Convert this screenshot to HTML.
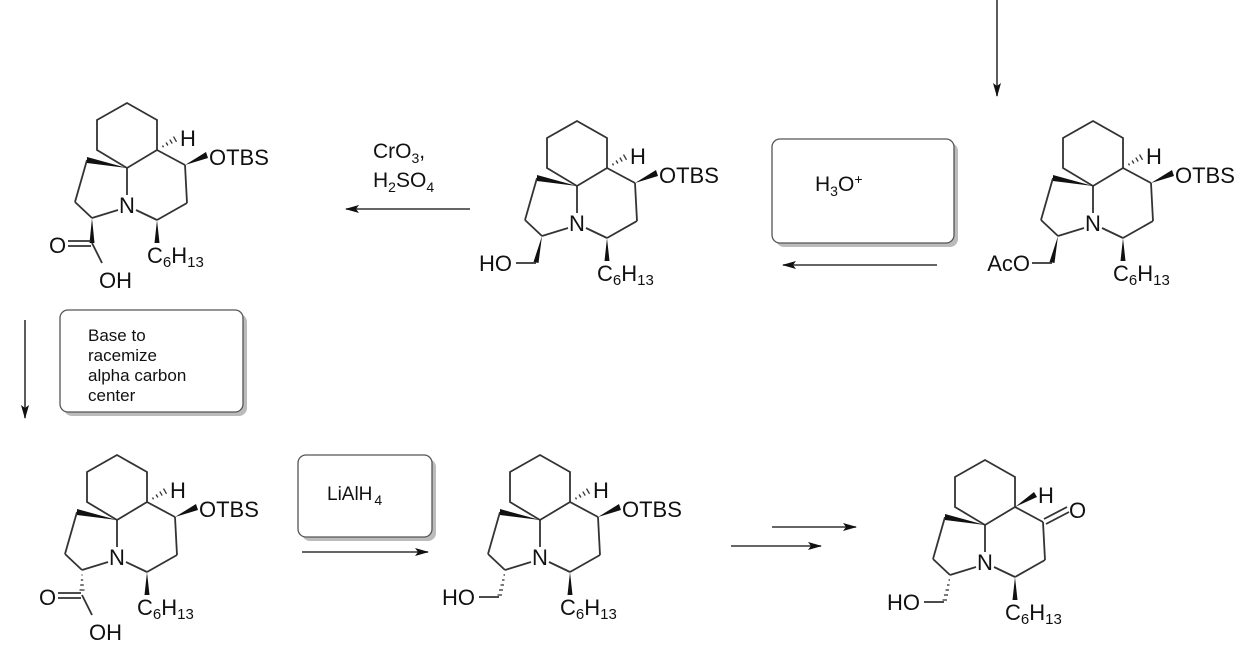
<!DOCTYPE html>
<html><head><meta charset="utf-8"><style>
html,body{margin:0;padding:0;background:#fff;}
svg{display:block;}
text{font-family:"Liberation Sans",Arial,sans-serif;fill:#111;}
</style></head><body>
<svg width="1250" height="661" viewBox="0 0 1250 661" xmlns="http://www.w3.org/2000/svg">
<defs>
<marker id="ah" markerWidth="14" markerHeight="8" refX="13" refY="4" orient="auto" markerUnits="userSpaceOnUse">
<path d="M0,0 L14,4 L0,8 L3,4 Z" fill="#111"/>
</marker>
<g id="core" stroke="#333" stroke-width="1.8" fill="none">
<polygon points="127,103 157,120 157,150 127,168 97,150 97,120"/>
<line x1="157" y1="150" x2="185" y2="165"/>
<line x1="185" y1="165" x2="187" y2="203"/>
<line x1="187" y1="203" x2="157" y2="220"/>
<line x1="157" y1="220" x2="136" y2="210"/>
<line x1="127" y1="168" x2="127" y2="195"/>
<line x1="118" y1="210" x2="92" y2="218"/>
<line x1="92" y1="218" x2="75" y2="202"/>
<line x1="75" y1="202" x2="87" y2="160"/>
<polygon points="127,168 87,157 87,163" fill="#111" stroke="none"/>
<polygon points="157,220 154.5,243 159.5,243" fill="#111" stroke="none"/>
</g>
<g id="hashH" stroke="#333" stroke-width="1.3">
<line x1="157" y1="150" x2="158" y2="149.5"/>
<line x1="162.5" y1="145.5" x2="163.5" y2="147.3"/>
<line x1="166.1" y1="142.5" x2="167.9" y2="145.5"/>
<line x1="169.8" y1="139.6" x2="172.2" y2="143.6"/>
<line x1="173.5" y1="136.6" x2="176.5" y2="141.8"/>
</g>
<polygon id="otbsW" points="185,165 206,152 208,158" fill="#111"/>
<g id="wedgeCH2">
<polygon points="92,218 83.5,244 88.5,245" fill="#111"/>
<line x1="86" y1="245" x2="66" y2="245" stroke="#333" stroke-width="1.8"/>
</g>
<g id="hashCH2" stroke="#333" stroke-width="1.3">
<line x1="90.5" y1="223" x2="92" y2="223"/>
<line x1="89" y1="228" x2="91.5" y2="228"/>
<line x1="87.5" y1="233" x2="91" y2="233"/>
<line x1="86" y1="238" x2="90" y2="238"/>
<line x1="84.5" y1="243" x2="89" y2="243"/>
<line x1="86" y1="245" x2="66" y2="245" stroke-width="1.8"/>
</g>
</defs>

<!-- Molecule 1 -->
<g>
<use href="#core"/><use href="#hashH"/><use href="#otbsW"/>
<polygon points="92,218 89.5,243 94.5,243" fill="#111"/>
<line x1="68" y1="241" x2="91" y2="241" stroke="#333" stroke-width="1.8"/>
<line x1="68" y1="246" x2="91" y2="246" stroke="#333" stroke-width="1.8"/>
<line x1="92" y1="243" x2="102" y2="263" stroke="#333" stroke-width="1.8"/>
<text x="127" y="213" font-size="22" text-anchor="middle">N</text>
<text x="180" y="146" font-size="22">H</text>
<text x="209" y="165" font-size="22">OTBS</text>
<text x="147" y="263" font-size="22">C<tspan font-size="15" dy="4">6</tspan><tspan dy="-4">H</tspan><tspan font-size="15" dy="4">13</tspan></text>
<text x="49" y="253" font-size="22">O</text>
<text x="99" y="288" font-size="22">OH</text>
</g>

<!-- Molecule 2 -->
<g transform="translate(450,18)">
<use href="#core"/><use href="#hashH"/><use href="#otbsW"/><use href="#wedgeCH2"/>
<text x="127" y="213" font-size="22" text-anchor="middle">N</text>
<text x="180" y="146" font-size="22">H</text>
<text x="209" y="165" font-size="22">OTBS</text>
<text x="147" y="263" font-size="22">C<tspan font-size="15" dy="4">6</tspan><tspan dy="-4">H</tspan><tspan font-size="15" dy="4">13</tspan></text>
<text x="62" y="253" font-size="22" text-anchor="end">HO</text>
</g>

<!-- Molecule 3 -->
<g transform="translate(966,18)">
<use href="#core"/><use href="#hashH"/><use href="#otbsW"/><use href="#wedgeCH2"/>
<text x="127" y="213" font-size="22" text-anchor="middle">N</text>
<text x="180" y="146" font-size="22">H</text>
<text x="209" y="165" font-size="22">OTBS</text>
<text x="147" y="263" font-size="22">C<tspan font-size="15" dy="4">6</tspan><tspan dy="-4">H</tspan><tspan font-size="15" dy="4">13</tspan></text>
<text x="64" y="253" font-size="22" text-anchor="end">AcO</text>
</g>

<!-- Molecule 4 -->
<g transform="translate(-10,352)">
<use href="#core"/><use href="#hashH"/><use href="#otbsW"/>
<g stroke="#333" stroke-width="1.3">
<line x1="91.5" y1="223" x2="92.5" y2="223"/>
<line x1="90.8" y1="228" x2="93.2" y2="228"/>
<line x1="90.2" y1="233" x2="93.8" y2="233"/>
<line x1="89.5" y1="238" x2="94.5" y2="238"/>
</g>
<line x1="68" y1="241" x2="91" y2="241" stroke="#333" stroke-width="1.8"/>
<line x1="68" y1="246" x2="91" y2="246" stroke="#333" stroke-width="1.8"/>
<line x1="92" y1="243" x2="102" y2="263" stroke="#333" stroke-width="1.8"/>
<text x="127" y="213" font-size="22" text-anchor="middle">N</text>
<text x="180" y="146" font-size="22">H</text>
<text x="209" y="165" font-size="22">OTBS</text>
<text x="147" y="263" font-size="22">C<tspan font-size="15" dy="4">6</tspan><tspan dy="-4">H</tspan><tspan font-size="15" dy="4">13</tspan></text>
<text x="49" y="253" font-size="22">O</text>
<text x="99" y="288" font-size="22">OH</text>
</g>

<!-- Molecule 5 -->
<g transform="translate(413,352)">
<use href="#core"/><use href="#hashH"/><use href="#otbsW"/><use href="#hashCH2"/>
<text x="127" y="213" font-size="22" text-anchor="middle">N</text>
<text x="180" y="146" font-size="22">H</text>
<text x="209" y="165" font-size="22">OTBS</text>
<text x="147" y="263" font-size="22">C<tspan font-size="15" dy="4">6</tspan><tspan dy="-4">H</tspan><tspan font-size="15" dy="4">13</tspan></text>
<text x="62" y="253" font-size="22" text-anchor="end">HO</text>
</g>

<!-- Molecule 6 -->
<g transform="translate(858,357)">
<use href="#core"/><use href="#hashCH2"/>
<polygon points="157,150 176,135 179,140" fill="#111"/>
<line x1="186" y1="162" x2="209" y2="150" stroke="#333" stroke-width="1.8"/>
<line x1="188" y1="167" x2="211" y2="155" stroke="#333" stroke-width="1.8"/>
<text x="127" y="213" font-size="22" text-anchor="middle">N</text>
<text x="180" y="146" font-size="22">H</text>
<text x="211" y="161" font-size="22">O</text>
<text x="147" y="263" font-size="22">C<tspan font-size="15" dy="4">6</tspan><tspan dy="-4">H</tspan><tspan font-size="15" dy="4">13</tspan></text>
<text x="62" y="253" font-size="22" text-anchor="end">HO</text>
</g>

<!-- Arrows -->
<g stroke="#333" stroke-width="1.6" fill="none">
<line x1="997" y1="0" x2="997" y2="96" marker-end="url(#ah)"/>
<line x1="937" y1="265" x2="783" y2="265" marker-end="url(#ah)"/>
<line x1="470" y1="209" x2="346" y2="209" marker-end="url(#ah)"/>
<line x1="25" y1="320" x2="25" y2="418" marker-end="url(#ah)"/>
<line x1="302" y1="552" x2="428" y2="552" marker-end="url(#ah)"/>
<line x1="772" y1="527" x2="856" y2="527" marker-end="url(#ah)"/>
<line x1="731" y1="546" x2="821" y2="546" marker-end="url(#ah)"/>
</g>

<!-- Boxes -->
<rect x="776" y="143" width="182" height="104" rx="8" fill="#bbb"/>
<rect x="772" y="139" width="182" height="104" rx="8" fill="#fff" stroke="#555" stroke-width="1.3"/>
<text x="815" y="191" font-size="21">H<tspan font-size="14" dy="5">3</tspan><tspan dy="-5">O</tspan><tspan font-size="14" dy="-7">+</tspan></text>

<rect x="64" y="314" width="183" height="102" rx="8" fill="#bbb"/>
<rect x="60" y="310" width="183" height="102" rx="8" fill="#fff" stroke="#555" stroke-width="1.3"/>
<text font-size="17"><tspan x="88" y="341">Base to</tspan><tspan x="88" y="361">racemize</tspan><tspan x="88" y="381">alpha carbon</tspan><tspan x="88" y="401">center</tspan></text>

<rect x="302" y="459" width="134" height="82" rx="8" fill="#bbb"/>
<rect x="298" y="455" width="134" height="82" rx="8" fill="#fff" stroke="#555" stroke-width="1.3"/>
<text x="327" y="500" font-size="19">LiAlH<tspan font-size="14" dy="5" dx="2">4</tspan></text>

<text x="373" y="158" font-size="21">CrO<tspan font-size="14" dy="5">3</tspan><tspan dy="-5">,</tspan></text>
<text x="373" y="187" font-size="21">H<tspan font-size="14" dy="5">2</tspan><tspan dy="-5">SO</tspan><tspan font-size="14" dy="5">4</tspan></text>
</svg>
</body></html>
